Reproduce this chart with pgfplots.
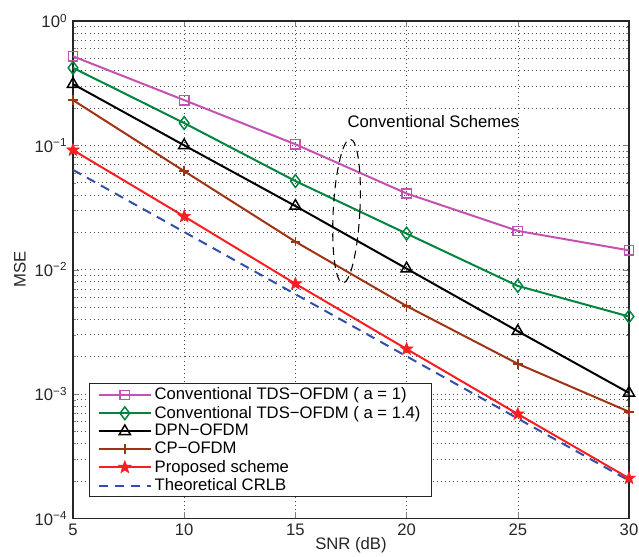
\documentclass[border=0pt]{standalone}
\usepackage{fontspec}
\setmainfont{Liberation Sans}
\usepackage{pgfplots}
\pgfplotsset{compat=1.18}

\definecolor{cpink}{RGB}{196,82,178}
\definecolor{cgreen}{RGB}{0,132,62}
\definecolor{cbrown}{RGB}{158,52,22}
\definecolor{cred}{RGB}{250,30,35}
\definecolor{cblue}{RGB}{50,80,170}

% filled five-pointed star
\pgfdeclareplotmark{fstar}{%
  \pgfpathmoveto{\pgfpointpolar{90}{\pgfplotmarksize}}%
  \pgfpathlineto{\pgfpointpolar{126}{0.42\pgfplotmarksize}}%
  \pgfpathlineto{\pgfpointpolar{162}{\pgfplotmarksize}}%
  \pgfpathlineto{\pgfpointpolar{198}{0.42\pgfplotmarksize}}%
  \pgfpathlineto{\pgfpointpolar{234}{\pgfplotmarksize}}%
  \pgfpathlineto{\pgfpointpolar{270}{0.42\pgfplotmarksize}}%
  \pgfpathlineto{\pgfpointpolar{306}{\pgfplotmarksize}}%
  \pgfpathlineto{\pgfpointpolar{342}{0.42\pgfplotmarksize}}%
  \pgfpathlineto{\pgfpointpolar{18}{\pgfplotmarksize}}%
  \pgfpathlineto{\pgfpointpolar{54}{0.42\pgfplotmarksize}}%
  \pgfpathclose
  \pgfusepathqfillstroke}

\newcommand{\f}{\fontsize{12.5}{15}\selectfont}

\begin{document}
\f
\begin{tikzpicture}
\begin{axis}[
    scale only axis,
    width=417pt, height=373pt,
    ymode=log,
    xmin=5, xmax=30, ymin=1e-4, ymax=1,
    xtick={5,10,15,20,25,30},
    ytick={1e-4,1e-3,1e-2,1e-1,1},
    yticklabels={10\textsuperscript{−4},10\textsuperscript{−3},10\textsuperscript{−2},10\textsuperscript{−1},10\textsuperscript{0}},
    /pgf/number format/assume math mode=true,
    tick label style={font=\f, black!85},
    xlabel={SNR (dB)}, ylabel={MSE},
    label style={font=\f, black!85},
    xlabel style={at={(axis description cs:0.5,-0.054)}, anchor=center},
    ylabel style={at={(axis description cs:-0.0953,0.5)}, anchor=center},
    tick align=inside, tick pos=both,
    major tick length=4.5pt, minor tick length=2.5pt,
    axis line style={line width=0.8pt, black!85},
    grid=both,
    xminorgrids=false,
    major grid style={black!70, line width=0.4pt, dash pattern=on 0.5pt off 2.6pt},
    minor grid style={black!70, line width=0.4pt, dash pattern=on 0.5pt off 2.6pt},
    legend style={at={(0.029,0.042)}, anchor=south west, font=\f,
        draw=black!85, line width=0.8pt, inner xsep=6pt, inner ysep=1pt, row sep=-1.2pt},
    legend cell align=left,
    legend image code/.code={\draw[mark repeat=2,mark phase=2,#1] plot coordinates {(0cm,0cm) (0.69cm,0cm) (1.38cm,0cm)};},
]
\addplot[cpink, line width=1.5pt, mark=square, mark size=3.5pt, mark options={solid, line width=1.1pt}] coordinates {
    (5,0.52) (10,0.231) (15,0.102) (20,0.041) (25,0.0205) (30,0.0143)};
\addplot[cgreen, line width=1.5pt, mark=diamond, mark size=4.8pt, mark options={solid, line width=1.1pt}] coordinates {
    (5,0.42) (10,0.151) (15,0.0516) (20,0.0195) (25,0.0074) (30,0.0042)};
\addplot[black, line width=1.5pt, mark=triangle, mark size=4.8pt, mark options={solid, line width=1.1pt}] coordinates {
    (5,0.311) (10,0.1) (15,0.0325) (20,0.0102) (25,0.0032) (30,0.00102)};
\addplot[cbrown, line width=1.5pt, mark=+, mark size=3.6pt, mark options={solid, line width=1.3pt}] coordinates {
    (5,0.231) (10,0.062) (15,0.0168) (20,0.0051) (25,0.00175) (30,0.00072)};
\addplot[cred, line width=1.5pt, mark=fstar, mark size=5pt, mark options={solid, fill=cred, draw=cred, line width=0.4pt}] coordinates {
    (5,0.0916) (10,0.0268) (15,0.0077) (20,0.0023) (25,0.00069) (30,0.00021)};
\addplot[cblue, line width=1.5pt, dash pattern=on 7pt off 5pt] coordinates {
    (5,0.0635) (10,0.0201) (15,0.00635) (20,0.00201) (25,0.000635) (30,0.000201)};
\legend{Conventional TDS−OFDM ( a = 1),Conventional TDS−OFDM ( a = 1.4),DPN−OFDM,CP−OFDM,Proposed scheme,Theoretical CRLB}
\draw[black, line width=0.8pt, dash pattern=on 6pt off 4pt, rotate around={-3:(axis cs:17.3,0.0296)}]
    (axis cs:17.3,0.0296) ellipse [x radius=10pt, y radius=54pt];
\node[anchor=center, font=\f] at (axis cs:21.2,0.154) {Conventional Schemes};
\end{axis}
\pgfresetboundingbox
\path ([xshift=-54.75pt,yshift=-28.5pt]current axis.south west) rectangle ([xshift=7.5pt,yshift=15.75pt]current axis.north east);
\end{tikzpicture}
\end{document}
